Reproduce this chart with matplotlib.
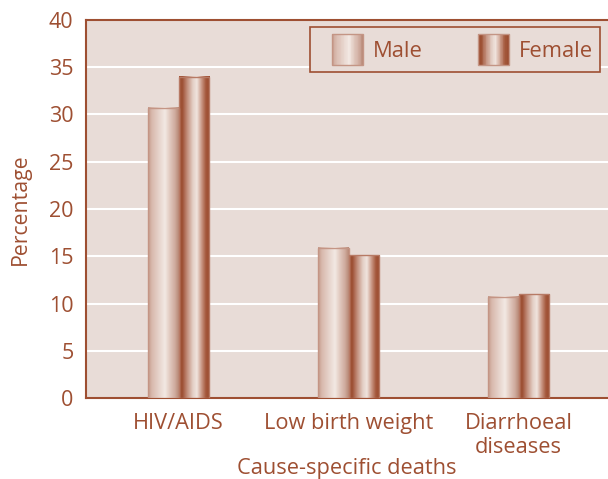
import numpy as np
import matplotlib
matplotlib.use('Agg')
import matplotlib.pyplot as plt
from matplotlib.colors import LinearSegmentedColormap
from matplotlib.patches import Rectangle
from matplotlib.legend_handler import HandlerBase

# Data.
causes = ['HIV/AIDS', 'Low birth weight', 'Diarrhoeal\ndiseases']
male = [30.7, 15.9, 10.7]
female = [34.0, 15.1, 11.0]
yticks = [0, 5, 10, 15, 20, 25, 30, 35, 40]

brown = '#9e4f32'
bg = '#e8dcd7'

plt.rcParams['font.family'] = ['Open Sans', 'DejaVu Sans']

# Cylinder-like shading for the two series.
male_cmap = LinearSegmentedColormap.from_list('male', [
    (0.0, '#c59a8a'), (0.12, '#d8b9ad'), (0.35, '#e6d3cb'),
    (0.55, '#f3e9e4'), (0.7, '#e2cbc1'), (0.88, '#cfab9e'), (1.0, '#b88976')])
female_cmap = LinearSegmentedColormap.from_list('female', [
    (0.0, '#a3573a'), (0.1, '#9c4f32'), (0.25, '#c08a76'), (0.45, '#e4d0c7'),
    (0.58, '#f0e4de'), (0.75, '#c5907c'), (0.88, '#a3573a'), (1.0, '#9a4c30')])


class GradHandler(HandlerBase):
    # swatch drawn at the right end of the handle box
    def __init__(self, cmap, sw):
        super().__init__()
        self.cmap = cmap
        self.sw = sw

    def create_artists(self, legend, orig_handle, xdescent, ydescent,
                       width, height, fontsize, trans):
        n = 40
        sw = self.sw * fontsize
        x0 = -xdescent + width - sw
        arts = []
        for i in range(n):
            r = Rectangle((x0 + sw * i / n, -ydescent), sw / n * 1.1,
                          height, facecolor=self.cmap((i + 0.5) / n),
                          edgecolor='none', transform=trans)
            arts.append(r)
        arts.append(Rectangle((x0, -ydescent), sw, height,
                              facecolor='none', edgecolor='#c49585',
                              linewidth=1, transform=trans))
        return arts


fig = plt.figure(figsize=(6.08, 4.79), dpi=100)
ax = fig.add_axes([86 / 608, 81 / 479, 522 / 608, 378 / 479])
ax.set_facecolor(bg)

x = np.arange(len(causes))
w = 0.178
bars_m = ax.bar(x - w / 2, male, w, facecolor='none', edgecolor='#c49585',
                linewidth=1, zorder=4)
bars_f = ax.bar(x + w / 2, female, w, facecolor='none', edgecolor='#b77a65',
                linewidth=1, zorder=4)

grad = np.linspace(0, 1, 60).reshape(1, -1)
for bars, cmap in [(bars_m, male_cmap), (bars_f, female_cmap)]:
    for b in bars:
        x0 = b.get_x()
        ax.imshow(grad, cmap=cmap, aspect='auto', interpolation='bilinear',
                  extent=(x0, x0 + b.get_width(), 0, b.get_height()), zorder=3)

ax.set_xlim(-0.545, 2.525)
ax.set_ylim(0, 40)
ax.set_yticks(yticks)
ax.set_xticks(x)
ax.set_xticklabels(causes, linespacing=1.2)
ax.yaxis.grid(True, color='white', linewidth=1.5, zorder=0)
ax.set_axisbelow(True)
ax.tick_params(length=0, labelcolor=brown)
ax.tick_params(axis='y', pad=9, labelsize=15.5)
ax.tick_params(axis='x', pad=11, labelsize=15.7)

for s in ['left', 'bottom', 'top']:
    ax.spines[s].set_color(brown)
    ax.spines[s].set_linewidth(1.5)
ax.spines['right'].set_visible(False)

ax.set_ylabel('Percentage', fontsize=15.3, color=brown, labelpad=13)
ax.set_xlabel('Cause-specific deaths', fontsize=15.7, color=brown, labelpad=0)

fs = 15.8
em = fs * 100 / 72
hh_pt = 31 * 72 / 100
hh = (hh_pt - 0.35 * 0.7 * fs) / (0.65 * fs)
hm = Rectangle((0, 0), 1, 1)
hf = Rectangle((0, 0), 1, 1)
leg = ax.legend([hm, hf], ['Male', 'Female'], ncol=2,
                handler_map={hm: GradHandler(male_cmap, 31 / em),
                             hf: GradHandler(female_cmap, 31 / em)},
                loc='upper right', bbox_to_anchor=(0.9847, 0.9815),
                borderaxespad=0, fontsize=fs, labelcolor=brown,
                handlelength=46 / em, handleheight=hh,
                handletextpad=10 / em, columnspacing=40 / em,
                fancybox=False, frameon=True, borderpad=7 / em)
leg.get_frame().set_facecolor(bg)
leg.get_frame().set_edgecolor(brown)
leg.get_frame().set_linewidth(1.2)
leg.get_frame().set_alpha(None)

fig.savefig('out.png', dpi=100)
